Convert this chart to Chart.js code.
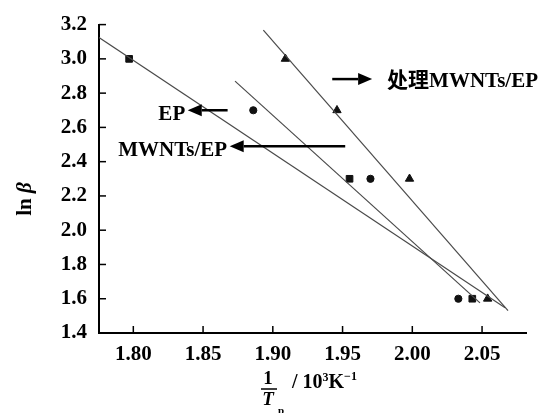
<!DOCTYPE html>
<html>
<head>
<meta charset="utf-8">
<script src="https://cdn.jsdelivr.net/npm/chart.js@4/dist/chart.umd.min.js"></script>
<style>
  html, body { margin: 0; padding: 0; background: #fff; }
</style>
</head>
<body>
<canvas id="chart" width="546" height="413"></canvas>
<script>
// measured points (1/Tp in 10^3 K^-1, ln beta)
const EP_X = [1.797, 1.955, 2.043];
const EP_Y = [3.0, 2.3, 1.6];
const MWNT_X = [1.886, 1.970, 2.033];
const MWNT_Y = [2.7, 2.3, 1.6];
const TREATED_X = [1.909, 1.946, 1.998, 2.054];
const TREATED_Y = [3.0, 2.7, 2.3, 1.6];

// fitted lines, start and end of each
const FIT_EP_X = [1.7754, 2.0665];
const FIT_EP_Y = [3.124, 1.547];
const FIT_MWNT_X = [1.8729, 2.0485];
const FIT_MWNT_Y = [2.870, 1.576];
const FIT_TREATED_X = [1.8932, 2.0686];
const FIT_TREATED_Y = [3.168, 1.530];

const X_TICKS = [1.80, 1.85, 1.90, 1.95, 2.00, 2.05];
const Y_TICKS = [1.4, 1.6, 1.8, 2.0, 2.2, 2.4, 2.6, 2.8, 3.0, 3.2];

// labels with arrows, in data units
const LABELS = [
  { text: 'EP', x: 1.8372, y: 2.677, align: 'right', arrowFrom: 1.8676, arrowTo: 1.8390, arrowY: 2.700 },
  { text: 'MWNTs/EP', x: 1.8672, y: 2.467, align: 'right', arrowFrom: 1.9519, arrowTo: 1.8691, arrowY: 2.490 },
  { text: '处理MWNTs/EP', x: 1.9819, y: 2.870, align: 'left', arrowFrom: 1.9426, arrowTo: 1.9712, arrowY: 2.882 }
];

const SERIF = '"Liberation Serif", "Noto Sans CJK SC", serif';
const INK = '#111';

const pts = (xs, ys) => xs.map((x, i) => ({ x, y: ys[i] }));

function arrow(ctx, x0, x1, y) {
  const dir = Math.sign(x1 - x0), head = 14, half = 6;
  ctx.beginPath();
  ctx.lineWidth = 2.5;
  ctx.moveTo(x0, y);
  ctx.lineTo(x1 - dir * head, y);
  ctx.stroke();
  ctx.beginPath();
  ctx.moveTo(x1, y);
  ctx.lineTo(x1 - dir * head, y - half);
  ctx.lineTo(x1 - dir * head, y + half);
  ctx.closePath();
  ctx.fill();
}

const overlay = {
  id: 'overlay',
  afterDraw(chart) {
    const { ctx, scales: { x, y } } = chart;
    const px = v => x.getPixelForValue(v), py = v => y.getPixelForValue(v);
    ctx.save();
    ctx.strokeStyle = '#000';
    ctx.fillStyle = '#000';
    ctx.lineWidth = 1.5;
    // inward tick marks
    X_TICKS.forEach(v => {
      ctx.beginPath(); ctx.moveTo(px(v), y.bottom); ctx.lineTo(px(v), y.bottom - 7); ctx.stroke();
    });
    Y_TICKS.forEach(v => {
      ctx.beginPath(); ctx.moveTo(x.left, py(v)); ctx.lineTo(x.left + 7, py(v)); ctx.stroke();
    });

    // annotations
    ctx.font = `bold 21px ${SERIF}`;
    ctx.textBaseline = 'middle';
    LABELS.forEach(l => {
      ctx.textAlign = l.align;
      ctx.fillText(l.text, px(l.x), py(l.y));
      arrow(ctx, px(l.arrowFrom), px(l.arrowTo), py(l.arrowY));
    });

    // y title: ln β
    ctx.save();
    ctx.translate(26, 199);
    ctx.rotate(-Math.PI / 2);
    ctx.textAlign = 'left';
    ctx.font = `bold 21px ${SERIF}`;
    const lnW = ctx.measureText('ln ').width;
    ctx.font = `italic bold 21px ${SERIF}`;
    const bW = ctx.measureText('β').width;
    const start = -(lnW + bW) / 2;
    ctx.font = `bold 21px ${SERIF}`;
    ctx.fillText('ln ', start, 0);
    ctx.font = `italic bold 21px ${SERIF}`;
    ctx.fillText('β', start + lnW, 0);
    ctx.restore();

    // x title: 1/Tp / 10^3 K^-1
    ctx.textBaseline = 'alphabetic';
    ctx.textAlign = 'center';
    ctx.font = `bold 19px ${SERIF}`;
    ctx.fillText('1', 268, 384);
    ctx.lineWidth = 1.5;
    ctx.beginPath(); ctx.moveTo(261, 389); ctx.lineTo(277, 389); ctx.stroke();
    ctx.font = `italic bold 19px ${SERIF}`;
    ctx.fillText('T', 268, 405);
    ctx.font = `bold 11px ${SERIF}`;
    ctx.fillText('p', 281, 414);
    ctx.textAlign = 'left';
    let cx = 292;
    ctx.font = `bold 20px ${SERIF}`;
    ctx.fillText('/ 10', cx, 388);
    cx += ctx.measureText('/ 10').width;
    ctx.font = `bold 12px ${SERIF}`;
    ctx.fillText('3', cx, 381);
    cx += ctx.measureText('3').width;
    ctx.font = `bold 20px ${SERIF}`;
    ctx.fillText('K', cx, 388);
    cx += ctx.measureText('K').width;
    ctx.font = `bold 12px ${SERIF}`;
    ctx.fillText('−1', cx, 380);
    ctx.restore();
  }
};

const markerStyle = (style, r) => ({
  showLine: false, pointStyle: style, pointRadius: r,
  backgroundColor: INK, borderColor: INK, borderWidth: 1
});
const fitStyle = { showLine: true, pointRadius: 0, borderColor: '#4a4a4a', borderWidth: 1.2, fill: false };

new Chart(document.getElementById('chart'), {
  type: 'scatter',
  data: {
    datasets: [
      { label: 'EP fit', data: pts(FIT_EP_X, FIT_EP_Y), ...fitStyle },
      { label: 'MWNTs/EP fit', data: pts(FIT_MWNT_X, FIT_MWNT_Y), ...fitStyle },
      { label: '处理MWNTs/EP fit', data: pts(FIT_TREATED_X, FIT_TREATED_Y), ...fitStyle },
      { label: 'EP', data: pts(EP_X, EP_Y), ...markerStyle('rect', 4.7) },
      { label: 'MWNTs/EP', data: pts(MWNT_X, MWNT_Y), ...markerStyle('circle', 3.6) },
      { label: '处理MWNTs/EP', data: pts(TREATED_X, TREATED_Y), ...markerStyle('triangle', 4.8) }
    ]
  },
  options: {
    responsive: false,
    animation: false,
    layout: { padding: { top: 16, right: 20, left: 0, bottom: 0 } },
    plugins: { legend: { display: false }, tooltip: { enabled: false } },
    scales: {
      x: {
        type: 'linear', min: 1.7754, max: 2.0815,
        afterBuildTicks: s => { s.ticks = X_TICKS.map(v => ({ value: v })); },
        afterFit: s => { s.height = 80; },
        grid: { display: false, drawTicks: false },
        border: { display: true, color: '#000', width: 2 },
        ticks: { color: '#000', padding: 9, maxRotation: 0, autoSkip: false,
          font: { family: SERIF, size: 21, weight: 'bold' }, callback: v => v.toFixed(2) }
      },
      y: {
        type: 'linear', min: 1.4, max: 3.2,
        afterBuildTicks: s => { s.ticks = Y_TICKS.map(v => ({ value: v })); },
        afterFit: s => { s.width = 99; },
        grid: { display: false, drawTicks: false },
        border: { display: true, color: '#000', width: 2 },
        ticks: { color: '#000', padding: 12, autoSkip: false,
          font: { family: SERIF, size: 21, weight: 'bold' }, callback: v => v.toFixed(1) }
      }
    }
  },
  plugins: [overlay]
});
</script>
</body>
</html>
